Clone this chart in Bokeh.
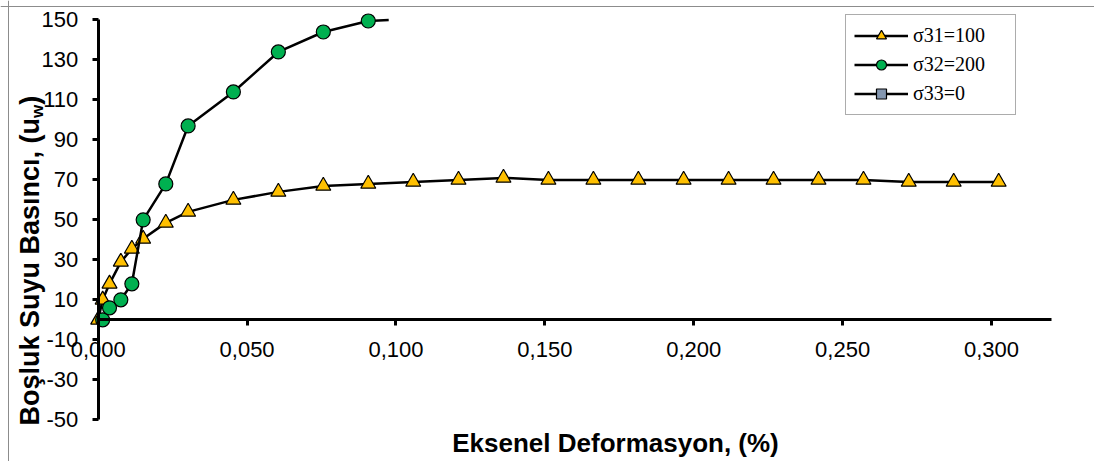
import numpy as np
from bokeh.plotting import figure
from bokeh.models import Range1d, FixedTicker, Label, Legend, LegendItem, Span
from bokeh.embed import file_html
from bokeh.resources import INLINE

# ---------------- data ----------------
strain_s100 = [0.0, 0.0015, 0.0038, 0.0076, 0.0113, 0.0151, 0.0227, 0.0302, 0.0454, 0.0605,
               0.0756, 0.0907, 0.1058, 0.1210, 0.1361, 0.1512, 0.1663, 0.1814, 0.1966, 0.2117,
               0.2268, 0.2419, 0.2570, 0.2722, 0.2873, 0.3024]
u_s100 = [0, 10, 18, 29, 35.5, 40.5, 48.5, 54, 60, 64,
          67, 68, 69, 70, 71, 70, 70, 70, 70, 70,
          70, 70, 70, 69, 69, 69]
strain_s200 = [0.0015, 0.0038, 0.0076, 0.0113, 0.0151, 0.0227, 0.0302, 0.0454, 0.0605, 0.0756,
               0.0907, 0.1058]
u_s200 = [0, 6, 10, 18, 50, 68, 97, 114, 134, 144, 149.5, 150.6]
strain_s0 = []
u_s0 = []

series_labels = ["\u03c331=100", "\u03c332=200", "\u03c333=0"]
x_ticks = [0.0, 0.05, 0.10, 0.15, 0.20, 0.25, 0.30]
x_tick_labels = ["0,000", "0,050", "0,100", "0,150", "0,200", "0,250", "0,300"]
y_ticks = [-50, -30, -10, 10, 30, 50, 70, 90, 110, 130, 150]
y_tick_labels = ["-50", "-30", "-10", "10", "30", "50", "70", "90", "110", "130", "150"]
x_title = "Eksenel Deformasyon, (%)"
y_title_main = "Bo\u015fluk Suyu Bas\u0131nc\u0131, (u"
y_title_sub = "w"
y_title_end = ")"

x_axis_max = 0.32
y_axis_min, y_axis_max = -50, 150

# ---------------- layout (frame = whole canvas, axes placed at data 0) ----------------
W, H = 1094, 461
X0_PX, X_PPU = 97.7, 2977.7     # canvas px of x=0, px per unit
Y0_PX, Y_PPU = 319.3, 1.9987    # canvas px of y=0, px per unit
x_start, x_end = -X0_PX / X_PPU, (W - X0_PX) / X_PPU
y_start, y_end = -(H - Y0_PX) / Y_PPU, Y0_PX / Y_PPU


def xd(px):
    return (px - X0_PX) / X_PPU


def yd(py):
    return (Y0_PX - py) / Y_PPU


def clip_top(xs, ys, top):
    ox, oy = [], []
    for i, (x, y) in enumerate(zip(xs, ys)):
        if y <= top:
            ox.append(x); oy.append(y)
        else:
            if i > 0 and ys[i - 1] <= top:
                t = (top - ys[i - 1]) / (y - ys[i - 1])
                ox.append(xs[i - 1] + t * (x - xs[i - 1])); oy.append(top)
            break
    return ox, oy


def or_nan(a):
    return a if len(a) else [float("nan")]


p = figure(width=W, height=H, output_backend="svg", toolbar_location=None,
           x_range=Range1d(x_start, x_end), y_range=Range1d(y_start, y_end),
           min_border_left=0, min_border_right=0, min_border_top=0,
           min_border_bottom=0, title_location=None)
p.xgrid.visible = False
p.ygrid.visible = False
p.outline_line_color = None
p.background_fill_color = "white"
p.border_fill_color = "white"

# chart-area border (top & left)
p.add_layout(Span(location=yd(6), dimension="width", line_color="#8c8c8c", line_width=1))
p.add_layout(Span(location=xd(8), dimension="height", line_color="#8c8c8c", line_width=1))

# axes
xa = p.xaxis[0]
xa.fixed_location = 0
xa.bounds = (0, x_axis_max)
xa.ticker = FixedTicker(ticks=x_ticks)
xa.major_label_overrides = dict(zip(x_ticks, x_tick_labels))
ya = p.yaxis[0]
ya.fixed_location = 0
ya.bounds = (y_axis_min, y_axis_max)
ya.ticker = FixedTicker(ticks=y_ticks)
ya.major_label_overrides = {float(k): v for k, v in zip(y_ticks, y_tick_labels)}
for ax in (xa, ya):
    ax.axis_line_width = 3
    ax.axis_line_color = "black"
    ax.major_tick_line_width = 3
    ax.major_tick_line_color = "black"
    ax.major_tick_in = 0
    ax.major_tick_out = 6
    ax.minor_tick_line_color = None
    ax.major_label_text_font = "Liberation Sans"
    ax.major_label_text_font_size = "22px"
    ax.major_label_text_color = "black"
xa.major_label_standoff = 16
ya.major_label_standoff = 14

# series
l1 = p.line(strain_s100, u_s100, line_color="black", line_width=2.5)
s1 = p.scatter(strain_s100, u_s100, marker="triangle", size=15, fill_color="#FFC000",
               line_color="black", line_width=1.2)
gx, gy = clip_top(strain_s200, u_s200, y_axis_max)
l2 = p.line(gx, gy, line_color="black", line_width=2.5)
vis = [i for i, v in enumerate(u_s200) if v <= y_axis_max]
s2 = p.scatter([strain_s200[i] for i in vis], [u_s200[i] for i in vis], marker="circle",
               size=14, fill_color="#00B050", line_color="black", line_width=1.2)
l3 = p.line(or_nan(strain_s0), or_nan(u_s0), line_color="black", line_width=2.5)
s3 = p.scatter(or_nan(strain_s0), or_nan(u_s0), marker="square", size=12, fill_color="#8497B0",
               line_color="black", line_width=1.2)

legend = Legend(items=[LegendItem(label=series_labels[0], renderers=[l1, s1]),
                       LegendItem(label=series_labels[1], renderers=[l2, s2]),
                       LegendItem(label=series_labels[2], renderers=[l3, s3])],
                location=(845, 346), padding=8, spacing=4, glyph_width=54, glyph_height=25,
                label_height=25, label_standoff=5, label_width=94,
                label_text_font="Liberation Serif", label_text_font_size="20px",
                label_text_color="black", border_line_color="#595959", border_line_width=1,
                background_fill_color="white", background_fill_alpha=1.0, margin=0)
p.add_layout(legend)

# titles
p.add_layout(Label(x=xd(615), y=yd(442), text=x_title, text_align="center",
                   text_baseline="alphabetic", text_font="Liberation Sans",
                   text_font_size="26px", text_font_style="bold", text_color="black"))
p.add_layout(Label(x=xd(29), y=yd(425), text=y_title_main, angle=np.pi / 2,
                   text_align="left", text_baseline="alphabetic", text_font="Liberation Sans",
                   text_font_size="27px", text_font_style="bold", text_color="black"))
p.add_layout(Label(x=xd(36.5), y=yd(117.4), text=y_title_sub, angle=np.pi / 2,
                   text_align="left", text_baseline="alphabetic", text_font="Liberation Sans",
                   text_font_size="17px", text_font_style="bold", text_color="black"))
p.add_layout(Label(x=xd(29), y=yd(104.2), text=y_title_end, angle=np.pi / 2,
                   text_align="left", text_baseline="alphabetic", text_font="Liberation Sans",
                   text_font_size="27px", text_font_style="bold", text_color="black"))

open("out.html", "w").write(file_html(p, INLINE))
